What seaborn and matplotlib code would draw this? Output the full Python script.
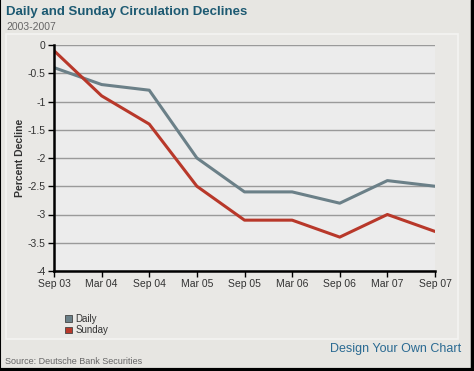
import pandas as pd
import matplotlib.pyplot as plt
import seaborn as sns
from matplotlib.patches import Rectangle
from matplotlib.lines import Line2D

sns.set_style("white")
plt.rcParams['font.family'] = ['Liberation Sans', 'DejaVu Sans']

# data
periods = ['Sep 03', 'Mar 04', 'Sep 04', 'Mar 05', 'Sep 05',
           'Mar 06', 'Sep 06', 'Mar 07', 'Sep 07']
daily = [-0.4, -0.7, -0.8, -2.0, -2.6, -2.6, -2.8, -2.4, -2.5]
sunday = [-0.1, -0.9, -1.4, -2.5, -3.1, -3.1, -3.4, -3.0, -3.3]

colors = {'Daily': '#6b8088', 'Sunday': '#b8382a'}

df = pd.DataFrame({'period': periods * 2,
                   'pos': list(range(len(periods))) * 2,
                   'value': daily + sunday,
                   'series': ['Daily'] * len(periods) + ['Sunday'] * len(periods)})

fig = plt.figure(figsize=(4.74, 3.71), dpi=100)
fig.patch.set_facecolor('#e7e6e2')

# black frame on left, right and bottom (no top edge)
fig.add_artist(Line2D([0.001, 0.001], [0, 1], transform=fig.transFigure,
                      color='black', linewidth=1.5))
fig.add_artist(Line2D([0.996, 0.996], [0, 1], transform=fig.transFigure,
                      color='black', linewidth=2.5))
fig.add_artist(Line2D([0, 1], [0.004, 0.004], transform=fig.transFigure,
                      color='black', linewidth=3))
# inner light panel
fig.add_artist(Rectangle((0.012, 1 - 339 / 371), 0.955, (339 - 34) / 371,
                         transform=fig.transFigure, facecolor='#e9e8e5',
                         edgecolor='#f4f4f2', linewidth=1.2, zorder=0))

ax = fig.add_axes([54 / 474, 1 - 271 / 371, 381 / 474, 226 / 371])
ax.set_facecolor('#ececec')

sns.lineplot(data=df, x='pos', y='value', hue='series', palette=colors,
             linewidth=2.2, ax=ax, legend=False)

ax.set_xlim(0, len(periods) - 1)
ax.set_ylim(-4, 0)
ax.set_xticks(range(len(periods)))
ax.set_xticklabels(periods)
ax.set_yticks([-4, -3.5, -3, -2.5, -2, -1.5, -1, -0.5, 0])
ax.set_yticklabels(['-4', '-3.5', '-3', '-2.5', '-2', '-1.5', '-1', '-0.5', '0'])
ax.yaxis.grid(True, color='#9a9a9a', linewidth=1)
ax.set_axisbelow(True)
ax.tick_params(axis='both', length=4, width=1, color='black', labelsize=7.5,
               labelcolor='#333333', left=True, bottom=True, pad=2)
for s in ['top', 'right']:
    ax.spines[s].set_visible(False)
for s in ['left', 'bottom']:
    ax.spines[s].set_color('black')
    ax.spines[s].set_linewidth(1.8)
ax.set_xlabel('')
ax.set_ylabel('Percent Decline', fontsize=7.5, fontweight='bold', color='#333333',
              labelpad=2)

# legend
handles = [Rectangle((0, 0), 1, 1, facecolor=colors[k], edgecolor='#444444', linewidth=0.6)
           for k in ['Daily', 'Sunday']]
fig.legend(handles, ['Daily', 'Sunday'], loc='upper left',
           bbox_to_anchor=(60 / 474, 1 - 309 / 371), frameon=False, fontsize=7,
           handlelength=0.7, handleheight=0.7, handletextpad=0.4, labelspacing=0.15,
           borderpad=0, labelcolor='#333333')

fig.text(6 / 474, 1 - 12 / 371, 'Daily and Sunday Circulation Declines', fontsize=9.5,
         fontweight='bold', color='#1d5a72', va='center', ha='left')
fig.text(6 / 474, 1 - 27 / 371, '2003-2007', fontsize=7.5, color='#666666',
         va='center', ha='left')
fig.text(461 / 474, 1 - 349 / 371, 'Design Your Own Chart', fontsize=9,
         color='#2a6a92', va='center', ha='right')
fig.text(5 / 474, 1 - 361 / 371, 'Source: Deutsche Bank Securities', fontsize=6.5,
         color='#666666', va='center', ha='left')

fig.savefig('out.png', dpi=100, facecolor=fig.get_facecolor())
